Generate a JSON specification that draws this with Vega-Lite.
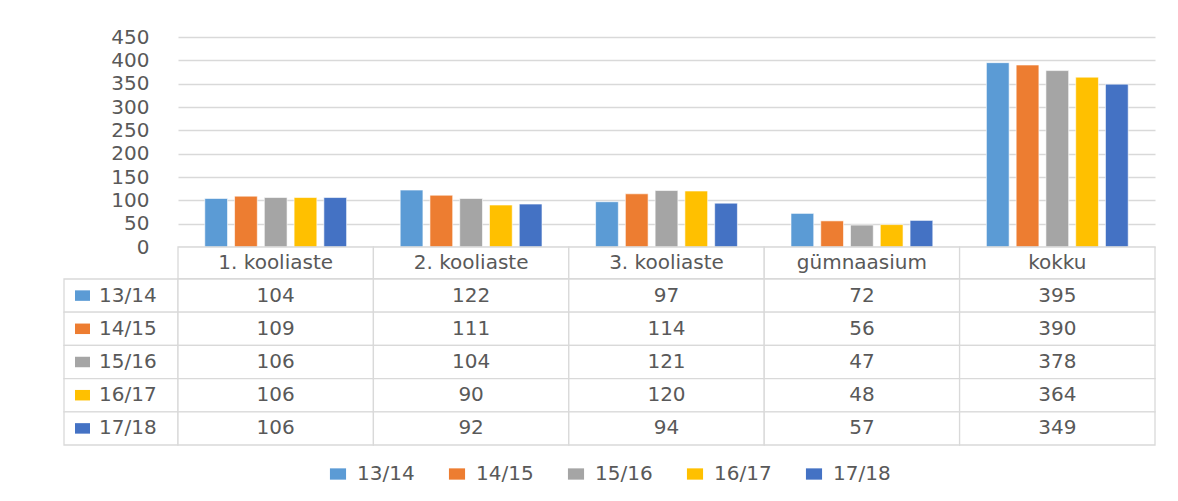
{
  "$schema": "https://vega.github.io/schema/vega-lite/v6.json",
  "padding": {"left": 63, "top": 27, "right": 10, "bottom": 5},
  "background": "white",
  "datasets": {
    "d": [
      {"category": "1. kooliaste", "series": "13/14", "value": 104},
      {"category": "1. kooliaste", "series": "14/15", "value": 109},
      {"category": "1. kooliaste", "series": "15/16", "value": 106},
      {"category": "1. kooliaste", "series": "16/17", "value": 106},
      {"category": "1. kooliaste", "series": "17/18", "value": 106},
      {"category": "2. kooliaste", "series": "13/14", "value": 122},
      {"category": "2. kooliaste", "series": "14/15", "value": 111},
      {"category": "2. kooliaste", "series": "15/16", "value": 104},
      {"category": "2. kooliaste", "series": "16/17", "value": 90},
      {"category": "2. kooliaste", "series": "17/18", "value": 92},
      {"category": "3. kooliaste", "series": "13/14", "value": 97},
      {"category": "3. kooliaste", "series": "14/15", "value": 114},
      {"category": "3. kooliaste", "series": "15/16", "value": 121},
      {"category": "3. kooliaste", "series": "16/17", "value": 120},
      {"category": "3. kooliaste", "series": "17/18", "value": 94},
      {"category": "gümnaasium", "series": "13/14", "value": 72},
      {"category": "gümnaasium", "series": "14/15", "value": 56},
      {"category": "gümnaasium", "series": "15/16", "value": 47},
      {"category": "gümnaasium", "series": "16/17", "value": 48},
      {"category": "gümnaasium", "series": "17/18", "value": 57},
      {"category": "kokku", "series": "13/14", "value": 395},
      {"category": "kokku", "series": "14/15", "value": 390},
      {"category": "kokku", "series": "15/16", "value": 378},
      {"category": "kokku", "series": "16/17", "value": 364},
      {"category": "kokku", "series": "17/18", "value": 349}
    ]
  },
  "data": {"name": "d"},
  "columns": 2,
  "spacing": 0,
  "bounds": "flush",
  "concat": [
    {
      "width": 114, "height": 210,
      "transform": [{"filter": "datum.value < 0"}],
      "mark": {"type": "text", "text": ""}
    },
    {
      "width": 977, "height": 210,
      "mark": {"type": "bar", "stroke": "white", "strokeWidth": 0.6},
      "encoding": {
        "x": {"field": "category", "type": "nominal", "sort": ["1. kooliaste", "2. kooliaste", "3. kooliaste", "gümnaasium", "kokku"], "scale": {"paddingInner": 0, "paddingOuter": 0}, "axis": null},
        "xOffset": {"field": "series", "type": "nominal", "sort": ["13/14", "14/15", "15/16", "16/17", "17/18"], "scale": {"paddingInner": 0.236, "paddingOuter": 0.9}},
        "y": {"field": "value", "type": "quantitative", "scale": {"domain": [0, 450]},
          "axis": {"values": [0, 50, 100, 150, 200, 250, 300, 350, 400, 450], "title": null, "grid": true, "gridColor": "#d9d9d9", "gridWidth": 1.3, "domain": false, "ticks": false, "labelFontSize": 20, "labelColor": "#595959", "labelPadding": 29}},
        "color": {"field": "series", "type": "nominal", "sort": ["13/14", "14/15", "15/16", "16/17", "17/18"],
          "scale": {"domain": ["13/14", "14/15", "15/16", "16/17", "17/18"], "range": ["#5B9BD5", "#ED7D31", "#A5A5A5", "#FFC000", "#4472C4"]},
          "legend": {"orient": "bottom", "direction": "horizontal", "title": null, "symbolType": "M-1,-0.7H1V0.7H-1Z", "symbolSize": 260, "symbolStrokeWidth": 0, "labelFontSize": 20, "labelColor": "#595959", "columnPadding": 32, "labelOffset": 9, "offset": 18}}
      }
    },
    {
      "width": 114, "height": 31.6,
      "transform": [{"filter": "datum.value < 0"}],
      "mark": {"type": "text", "text": ""}
    },
    {
      "width": 977, "height": 31.6,
      "transform": [{"filter": "datum.series == '13/14'"}],
      "encoding": {
        "x": {"field": "category", "type": "nominal", "sort": ["1. kooliaste", "2. kooliaste", "3. kooliaste", "gümnaasium", "kokku"], "scale": {"paddingInner": 0, "paddingOuter": 0}, "axis": null}
      },
      "layer": [
        {"mark": {"type": "rect", "fill": "white", "stroke": "#d9d9d9", "strokeWidth": 1.3}},
        {"mark": {"type": "text", "fontSize": 20, "color": "#595959"}, "encoding": {"text": {"field": "category"}}}
      ]
    },
    {
      "width": 114, "height": 166,
      "transform": [{"filter": "datum.category == 'kokku'"}],
      "encoding": {
        "y": {"field": "series", "type": "nominal", "sort": ["13/14", "14/15", "15/16", "16/17", "17/18"], "scale": {"paddingInner": 0, "paddingOuter": 0}, "axis": null}
      },
      "layer": [
        {"mark": {"type": "rect", "fill": "white", "stroke": "#d9d9d9", "strokeWidth": 1.3}},
        {"mark": {"type": "point", "shape": "M-1,-0.7H1V0.7H-1Z", "size": 225, "filled": true, "opacity": 1, "xOffset": -38.5},
          "encoding": {"color": {"field": "series", "type": "nominal", "legend": null}}},
        {"mark": {"type": "text", "fontSize": 20, "color": "#595959", "align": "left", "xOffset": -22},
          "encoding": {"text": {"field": "series"}}}
      ]
    },
    {
      "width": 977, "height": 166,
      "encoding": {
        "x": {"field": "category", "type": "nominal", "sort": ["1. kooliaste", "2. kooliaste", "3. kooliaste", "gümnaasium", "kokku"], "scale": {"paddingInner": 0, "paddingOuter": 0}, "axis": null},
        "y": {"field": "series", "type": "nominal", "sort": ["13/14", "14/15", "15/16", "16/17", "17/18"], "scale": {"paddingInner": 0, "paddingOuter": 0}, "axis": null}
      },
      "layer": [
        {"mark": {"type": "rect", "fill": "white", "stroke": "#d9d9d9", "strokeWidth": 1.3}},
        {"mark": {"type": "text", "fontSize": 20, "color": "#595959"}, "encoding": {"text": {"field": "value", "type": "quantitative"}}}
      ]
    }
  ],
  "resolve": {"scale": {"x": "independent", "y": "independent"}},
  "config": {
    "font": "DejaVu Sans",
    "view": {"stroke": null},
    "legend": {"layout": {"bottom": {"anchor": "middle"}}}
  }
}
